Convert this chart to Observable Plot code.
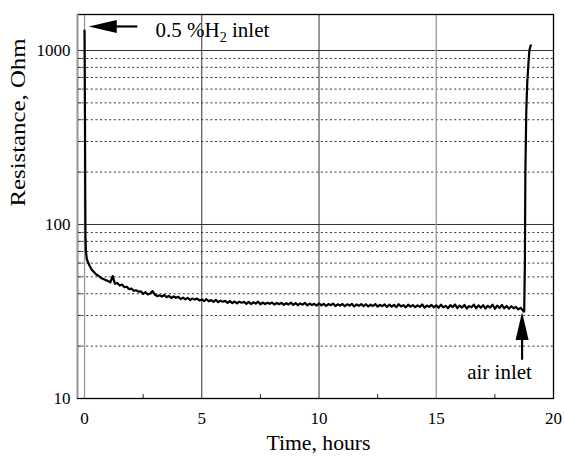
<!DOCTYPE html>
<html><head><meta charset="utf-8">
<script src="https://cdn.jsdelivr.net/npm/d3@7"></script>
<script src="https://cdn.jsdelivr.net/npm/@observablehq/plot@0.6"></script>
<style>body{margin:0;background:#fff} svg{display:block}</style>
</head><body><div id="chart"></div>
<script>
// ---- data ----
const xTicks = [0, 5, 10, 15, 20];
const xMinor = [2.5, 7.5, 12.5, 17.5];
const yTicks = [10, 100, 1000];
const yMinor = [20, 30, 40, 50, 60, 70, 80, 90, 200, 300, 400, 500, 600, 700, 800, 900];
const gridDark = [5, 10];
const gridLight = [0, 15];

// H2 inlet spike (time, hours / resistance, Ohm)
const startTimes  = [0.0, 0.02, 0.03, 0.04, 0.06, 0.10];
const startValues = [1300, 400, 150, 85, 70, 63];
// slow decay, sampled every 0.1 h from 0.2 h to 18.7 h
const decayStart = 0.2, decayStep = 0.1;
const decayValues = [
  58.5, 55.2, 53.4, 51.6, 50.8, 49.3, 48.6, 47.9,
  47.4, 46.5, 50.5, 45.6, 46.1, 44.6, 45.2, 43.6, 43.9, 42.5,
  42.8, 41.6, 41.9, 41.1, 41.3, 39.9, 40.8, 39.6, 40.1, 41.4,
  39.6, 38.7, 39.2, 38.5, 39.4, 38.2, 38.9, 37.8, 38.6, 37.9,
  38.4, 37.3, 38.0, 37.1, 37.9, 36.8, 37.6, 37.0, 37.5, 36.6,
  37.1, 36.3, 37.2, 36.2, 36.8, 35.9, 36.9, 35.8, 36.5, 36.0,
  36.4, 35.4, 36.3, 35.3, 36.1, 35.2, 36.0, 35.5, 35.9, 35.0,
  35.9, 34.9, 35.7, 35.1, 36.0, 34.8, 35.6, 34.9, 35.5, 35.0,
  35.6, 34.6, 35.4, 34.8, 35.5, 34.5, 35.3, 34.7, 35.6, 34.5,
  35.3, 34.4, 35.2, 34.6, 35.4, 34.3, 35.1, 34.5, 35.0, 34.2,
  35.2, 34.3, 35.0, 34.1, 34.9, 34.4, 35.1, 34.0, 34.8, 34.2,
  34.9, 33.9, 34.8, 34.2, 35.0, 33.8, 34.7, 34.1, 34.9, 33.9,
  34.8, 33.8, 34.6, 34.0, 34.9, 33.7, 34.5, 33.9, 34.7, 33.6,
  34.6, 33.7, 34.5, 33.5, 34.8, 33.8, 34.4, 33.4, 34.6, 33.7,
  34.4, 33.5, 34.3, 33.6, 34.7, 33.3, 34.2, 33.6, 34.5, 33.4,
  34.3, 33.2, 34.6, 33.4, 34.1, 33.0, 34.4, 33.5, 34.7, 33.1,
  34.2, 33.3, 34.5, 32.9, 34.0, 33.4, 34.6, 33.0, 34.3, 33.2,
  34.4, 32.9, 34.1, 33.3, 34.6, 32.8, 34.2, 33.1, 34.5, 33.0,
  34.0, 32.8, 33.9, 33.0, 33.6, 32.5, 33.2, 32.0
];
// air inlet rise
const endTimes  = [18.75, 18.78, 18.80, 18.84, 18.88, 18.92, 18.97, 19.03];
const endValues = [31.6, 60, 200, 450, 650, 800, 1000, 1070];

// annotations
const h2Label = "0.5 %H2 inlet";
const h2Arrow = {tipT: 0.18, baseT: 1.0, tailT: 2.25, r: 1374, textT: 3.03, textR: 1309};
const airLabel = "air inlet";
const airArrow = {t: 18.66, tipR: 31.4, baseR: 25, tailR: 16.7, textT: 17.7, textR: 14.2};
const xLabel = "Time, hours";
const yLabel = "Resistance, Ohm";

// ---- build series ----
const series = [];
startTimes.forEach((t, i) => series.push({t, r: startValues[i]}));
decayValues.forEach((r, i) => series.push({t: +(decayStart + i * decayStep).toFixed(2), r}));
endTimes.forEach((t, i) => series.push({t, r: endValues[i]}));

const xDomain = [-0.3, 20];
const headUp = {draw(ctx) { ctx.moveTo(0, 0); ctx.lineTo(6.5, 28); ctx.lineTo(-6.5, 28); ctx.closePath(); }};
const font = "Liberation Serif";

const chart = Plot.plot({
  width: 564, height: 457,
  marginTop: 14, marginRight: 11, marginBottom: 59, marginLeft: 77,
  style: {fontFamily: font, fontSize: "17px", background: "white", color: "black"},
  x: {domain: xDomain},
  y: {type: "log", domain: [10, 1610]},
  marks: [
    Plot.ruleY(yMinor, {stroke: "#333", strokeDasharray: "2,2.6"}),
    Plot.tickY(yMinor, {stroke: "#222", insetRight: 472}),
    Plot.ruleY([100, 1000], {stroke: "#333"}),
    Plot.ruleX(gridDark, {stroke: "#333"}),
    Plot.ruleX(gridLight, {stroke: "#999", strokeWidth: 1.3}),
    Plot.tickX(xMinor, {stroke: "#222", insetTop: 380}),
    Plot.frame({stroke: "black", strokeWidth: 1.3}),
    Plot.ruleX([xDomain[0]], {stroke: "#999", strokeWidth: 1.6}),
    Plot.line(series, {x: "t", y: "r", stroke: "black", strokeWidth: 2.2}),
    Plot.axisX(xTicks, {tickSize: 0, tickPadding: 13, fontSize: 17, fontFamily: font, label: null}),
    Plot.axisY(yTicks, {tickSize: 0, tickPadding: 7, fontSize: 17, fontFamily: font, label: null, tickFormat: d => String(d)}),
    Plot.text([xLabel], {frameAnchor: "bottom", dx: 3, dy: 51, fontSize: 20, fontFamily: font}),
    Plot.text([yLabel], {frameAnchor: "left", dx: -59, rotate: -90, fontSize: 20, fontFamily: font}),
    // H2 arrow
    Plot.link([h2Arrow], {x1: "baseT", x2: "tailT", y1: "r", y2: "r", stroke: "black", strokeWidth: 2.2}),
    Plot.dot([h2Arrow], {x: "tipT", y: "r", symbol: headUp, rotate: -90, fill: "black", stroke: null}),
    Plot.text([h2Arrow], {x: "textT", y: "textR", text: () => h2Label, textAnchor: "start", fontSize: 21, fontFamily: font}),
    // air arrow
    Plot.link([airArrow], {x1: "t", x2: "t", y1: "baseR", y2: "tailR", stroke: "black", strokeWidth: 2.2}),
    Plot.dot([airArrow], {x: "t", y: "tipR", symbol: headUp, fill: "black", stroke: null}),
    Plot.text([airArrow], {x: "textT", y: "textR", text: () => airLabel, fontSize: 21, fontFamily: font})
  ]
});

const svg = d3.select(chart);
svg.selectAll("text").each(function () {
  const el = d3.select(this);
  if (this.textContent === h2Label) {
    el.text(null);
    el.append("tspan").text("0.5 %H");
    el.append("tspan").attr("font-size", 14).attr("dy", 5).text("2");
    el.append("tspan").attr("dy", -5).text(" inlet");
  } else if (this.textContent === xLabel) {
    el.attr("textLength", 104).attr("lengthAdjust", "spacingAndGlyphs");
  } else if (this.textContent === yLabel) {
    el.attr("textLength", 168).attr("lengthAdjust", "spacingAndGlyphs");
  }
});
document.getElementById("chart").appendChild(chart);
</script>
</body></html>
